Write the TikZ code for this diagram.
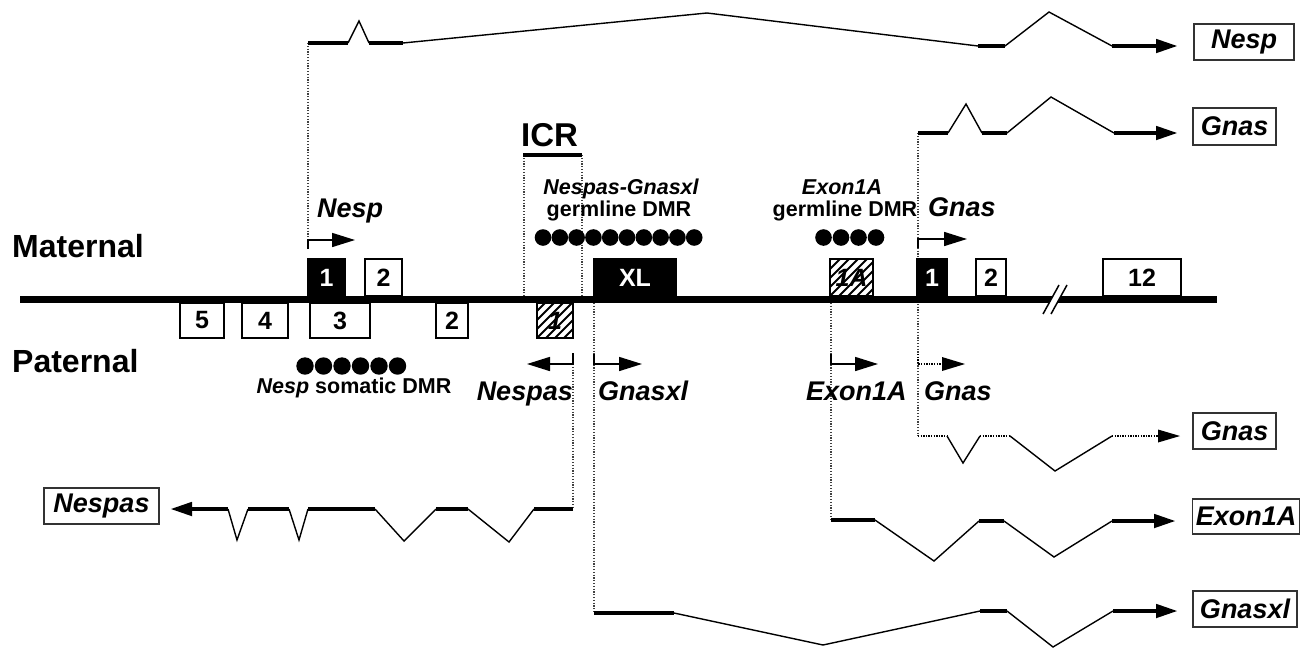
\documentclass[tikz,border=0pt]{standalone}
\usepackage{fontspec}
\setmainfont{Liberation Sans}
\usetikzlibrary{arrows.meta}
\newcommand\myhatch[4]{%
  \begin{scope}
    \clip (#1,#2) rectangle (#3,#4);
    \foreach \k in {-54,-45,...,63} \draw[line width=2pt] ({#1+\k},#4) -- ++(50,-50);
  \end{scope}}
\begin{document}
\begin{tikzpicture}[x=1pt,y=-1pt,
  exonline/.style={line width=4.5pt},
  intron/.style={line width=1.4pt, line join=miter},
  dotline/.style={black!75, line width=1.2pt, dash pattern=on 1.2pt off 1.6pt},
  dotexon/.style={black, line width=2.4pt, dash pattern=on 1.4pt off 1.2pt},
  tip/.style={-{Triangle[length=22pt,width=13pt]}},
  prom/.style={line width=1.6pt, -{Triangle[length=23pt,width=14pt]}},
  exw/.style={draw, fill=white, line width=1.5pt, inner sep=0pt, font=\fontsize{25}{25}\selectfont\bfseries},
  exb/.style={draw, fill=black, text=white, line width=1.5pt, inner sep=0pt, font=\fontsize{25}{25}\selectfont\bfseries},
  exh/.style={fill=white, inner sep=0pt, font=\fontsize{25}{25}\selectfont\bfseries\itshape},
  lbox/.style={draw=black!80, line width=1.5pt, fill=white, inner sep=0pt, font=\fontsize{27}{27}\selectfont\bfseries\itshape},
  big/.style={inner sep=0pt, font=\fontsize{32}{32}\selectfont\bfseries},
  gname/.style={inner sep=0pt, font=\fontsize{27}{27}\selectfont\bfseries\itshape},
  small/.style={inner sep=0pt, font=\fontsize{21.5}{21.5}\selectfont\bfseries},
  ]
\useasboundingbox (0,0) rectangle (1308,648);

% dotted guide lines
\draw[dotline] (308,43) -- (308,240);
\draw[dotline] (918,133) -- (918,436);
\draw[dotline] (524,155) -- (524,296);
\draw[dotline] (582,155) -- (582,296);
\draw[dotline] (573,364) -- (573,509);
\draw[dotline] (594,303) -- (594,613);
\draw[dotline] (831,303) -- (831,520);

% main chromosome line
\draw[line width=7pt] (20,299.5) -- (1217,299.5);
\fill[white] (1043,314) -- (1059,285) -- (1067,285) -- (1051,314) -- cycle;
\draw[line width=1.5pt] (1043,314) -- (1059,285) (1051,314) -- (1067,285);

% maternal exons
\node[exb, minimum width=37pt, minimum height=37pt] (mN1) at (326.5,277.5) {1};
\node[exw, minimum width=37pt, minimum height=37pt] (mN2) at (383.5,277.5) {2};
\node[exb, minimum width=82pt, minimum height=37pt] (mXL) at (635,277.5) {XL};
\node[exh, minimum width=43pt, minimum height=37pt] (m1A) at (851.5,277.5) {1A};
\myhatch{830}{259}{873}{296}
\draw[line width=1.5pt] (m1A.south west) rectangle (m1A.north east);
\node[exb, minimum width=30pt, minimum height=37pt] (mG1) at (932,277.5) {1};
\node[exw, minimum width=30pt, minimum height=37pt] (mG2) at (991,277.5) {2};
\node[exw, minimum width=78pt, minimum height=37pt] (m12) at (1142,277.5) {12};

% paternal exons
\node[exw, minimum width=44pt, minimum height=35pt] (p5) at (202,320.5) {5};
\node[exw, minimum width=46pt, minimum height=35pt] (p4) at (265,320.5) {4};
\node[exw, minimum width=60pt, minimum height=35pt] (p3) at (340,320.5) {3};
\node[exw, minimum width=32pt, minimum height=35pt] (p2) at (452,320.5) {2};
\node[exh, minimum width=36pt, minimum height=35pt] (p1) at (555,320.5) {1};
\myhatch{537}{303}{573}{338}
\draw[line width=1.5pt] (p1.south west) rectangle (p1.north east);

% side labels
\node[big, anchor=base west] (mat) at (12,257) {Maternal};
\node[big, anchor=base west] (pat) at (12,372) {Paternal};

% ICR
\node[inner sep=0pt, font=\fontsize{33}{33}\selectfont\bfseries, anchor=base west] (icr) at (521,146) {ICR};
\draw[line width=4pt] (523,155) -- (582,155);

% DMR labels and dots
\node[small, anchor=base] (dmr1a) at (621,194) {\itshape Nespas-Gnasxl};
\node[small, anchor=base] (dmr1b) at (619,216) {germline DMR};
\foreach \i in {0,...,9} \fill ({543+16.8*\i},237.5) circle (8.3);
\node[small, anchor=base] (dmr2a) at (842,194) {\itshape Exon1A};
\node[small, anchor=base] (dmr2b) at (845,216) {germline DMR};
\foreach \i in {0,...,3} \fill ({823.5+17.5*\i},237.5) circle (8.3);
\foreach \i in {0,...,5} \fill ({305+18.5*\i},366) circle (8.7);
\node[small, anchor=base] (dmr3) at (354,393) {{\itshape Nesp} somatic DMR};

% promoter arrows (maternal)
\node[gname, anchor=base west] (lNesp) at (317,217) {Nesp};
\draw[prom] (308,249) -- (308,240) -- (355,240);
\node[gname, anchor=base west] (lGnasM) at (928,216) {Gnas};
\draw[prom] (918,248) -- (918,239) -- (967,239);

% promoter arrows (paternal)
\draw[prom] (573,353) -- (573,364) -- (527,364);
\node[gname, anchor=base east] (lNespas) at (573,400) {Nespas};
\draw[prom] (594,354) -- (594,364) -- (642,364);
\node[gname, anchor=base west] (lGnasxl) at (598,400) {Gnasxl};
\draw[prom] (831,354) -- (831,364) -- (878,364);
\node[gname, anchor=base west] (lExon) at (806,400) {Exon1A};
\draw[line width=2pt, dash pattern=on 1.4pt off 1.2pt] (918,354) -- (918,364) -- (943,364);
\fill (942,357) -- (965,364) -- (942,371) -- cycle;
\node[gname, anchor=base west] (lGnasP) at (924,400) {Gnas};

% transcript label boxes
\node[lbox, minimum width=100pt, minimum height=36pt] (bNesp) at (1244,42) {Nesp};
\node[lbox, minimum width=83pt, minimum height=37pt] (bGnasM) at (1234.5,126.5) {Gnas};
\node[lbox, minimum width=83pt, minimum height=36pt] (bGnasP) at (1234.5,431) {Gnas};
\node[lbox, minimum width=107pt, minimum height=35pt] (bExon) at (1246,516.5) {Exon1A};
\node[lbox, minimum width=104pt, minimum height=36pt] (bGnasxl) at (1245,609) {Gnasxl};
\node[lbox, minimum width=115pt, minimum height=36pt] (bNespas) at (101.5,506) {Nespas};

% Nesp transcript (maternal)
\draw[exonline] (308,43) -- (348,43) (369,43) -- (403,43) (978,46) -- (1005,46);
\draw[intron] (348,43) -- (359,21) -- (369,43) (403,43) -- (707,13) -- (978,46) (1005,46) -- (1049,12) -- (1112,46);
\draw[exonline, tip] (1112,46) -- (1178,46);

% Gnas transcript (maternal)
\draw[exonline] (918,133) -- (948,133) (982,133) -- (1007,133);
\draw[intron] (948,133) -- (966,104) -- (982,133) (1007,133) -- (1051,97) -- (1114,133);
\draw[exonline, tip] (1114,133) -- (1178,133);

% Gnas transcript (paternal, dotted)
\draw[dotexon] (918,436) -- (947,436) (980,436) -- (1010,436);
\draw[intron] (947,436) -- (963,463) -- (980,436) (1010,436) -- (1055,471) -- (1112,436);
\draw[dotexon] (1112,436) -- (1160,436);
\fill (1158,429.5) -- (1180,436) -- (1158,442.5) -- cycle;

% Exon1A transcript
\draw[exonline] (831,520) -- (875,520) (979,521) -- (1004,521);
\draw[intron] (875,520) -- (934,561) -- (979,521) (1004,521) -- (1054,557) -- (1112,521);
\draw[exonline, tip] (1112,521) -- (1176,521);

% Gnasxl transcript
\draw[exonline] (594,613) -- (674,613) (980,611) -- (1007,611);
\draw[intron] (674,613) -- (823,645) -- (980,611) (1007,611) -- (1053,647) -- (1113,611);
\draw[exonline, tip] (1113,611) -- (1178,611);

% Nespas transcript
\draw[exonline] (573,509) -- (534,509) (468,509) -- (436,509) (375,509) -- (308,509) (289,509) -- (248,509);
\draw[intron] (534,509) -- (509,542) -- (468,509) (436,509) -- (404,541) -- (375,509) (308,509) -- (299,540) -- (289,509) (248,509) -- (237,540) -- (228,509);
\draw[exonline, tip] (228,509) -- (170,509);
\end{tikzpicture}
\end{document}
